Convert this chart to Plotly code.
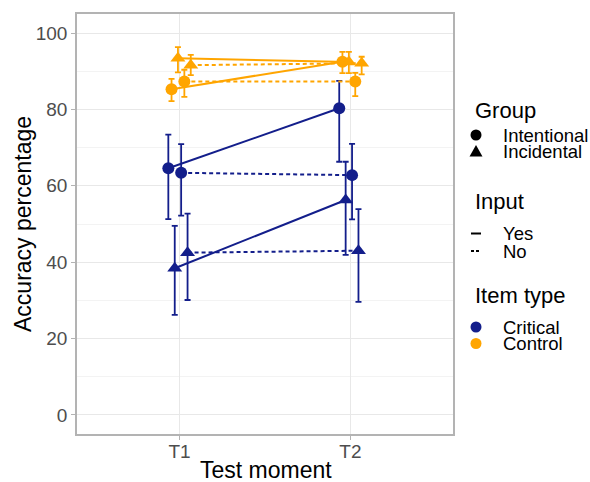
import plotly.graph_objects as go

# ---------------- data ----------------
moments = ["T1", "T2"]
item_types = ["Critical", "Control"]
groups = ["Intentional", "Incidental"]
inputs = ["Yes", "No"]

# means, upper and lower bounds at [T1, T2]
crit_int_yes = [64.6, 80.3]
crit_int_yes_hi = [73.4, 87.5]
crit_int_yes_lo = [51.3, 66.3]

crit_int_no = [63.4, 62.8]
crit_int_no_hi = [70.9, 71.0]
crit_int_no_lo = [52.2, 51.2]

crit_inc_yes = [38.4, 56.3]
crit_inc_yes_hi = [49.5, 66.3]
crit_inc_yes_lo = [26.2, 41.9]

crit_inc_no = [42.5, 43.0]
crit_inc_no_hi = [52.7, 53.9]
crit_inc_no_lo = [30.1, 29.6]

ctrl_int_yes = [85.3, 92.5]
ctrl_int_yes_hi = [88.0, 95.1]
ctrl_int_yes_lo = [82.2, 89.5]

ctrl_int_no = [87.3, 87.3]
ctrl_int_no_hi = [90.4, 89.6]
ctrl_int_no_lo = [83.3, 83.5]

ctrl_inc_yes = [93.4, 92.4]
ctrl_inc_yes_hi = [96.3, 95.1]
ctrl_inc_yes_lo = [89.7, 89.5]

ctrl_inc_no = [91.6, 92.1]
ctrl_inc_no_hi = [94.3, 93.8]
ctrl_inc_no_lo = [89.0, 89.2]

series = [
    ("Critical", "Intentional", "Yes", crit_int_yes, crit_int_yes_hi, crit_int_yes_lo),
    ("Critical", "Intentional", "No", crit_int_no, crit_int_no_hi, crit_int_no_lo),
    ("Critical", "Incidental", "Yes", crit_inc_yes, crit_inc_yes_hi, crit_inc_yes_lo),
    ("Critical", "Incidental", "No", crit_inc_no, crit_inc_no_hi, crit_inc_no_lo),
    ("Control", "Intentional", "Yes", ctrl_int_yes, ctrl_int_yes_hi, ctrl_int_yes_lo),
    ("Control", "Intentional", "No", ctrl_int_no, ctrl_int_no_hi, ctrl_int_no_lo),
    ("Control", "Incidental", "Yes", ctrl_inc_yes, ctrl_inc_yes_hi, ctrl_inc_yes_lo),
    ("Control", "Incidental", "No", ctrl_inc_no, ctrl_inc_no_hi, ctrl_inc_no_lo),
]

# ---------------- styles ----------------
FONT = "Liberation Sans, Arial, sans-serif"
colors = {"Critical": "#131E8B", "Control": "#FFA500"}
symbols = {"Intentional": "circle", "Incidental": "triangle-up"}
sizes = {"Intentional": 12, "Incidental": 13}
dashes = {"Yes": "solid", "No": "4px,3px"}
DODGE = 0.15
N_DODGE = 8

fig = go.Figure()

# error bars, lines, points (position_dodge style offsets)
for item, grp, inp, mean, hi, lo in series:
    idx = inputs.index(inp) * 4 + groups.index(grp) * 2 + item_types.index(item)
    off = (idx - (N_DODGE - 1) / 2) * DODGE / N_DODGE
    xs = [moments.index(m) + 1 + off for m in moments]
    fig.add_trace(go.Scatter(
        x=xs, y=mean, mode="lines+markers",
        line=dict(color=colors[item], width=2, dash=dashes[inp]),
        marker=dict(symbol=symbols[grp], size=sizes[grp], color=colors[item]),
        error_y=dict(type="data", symmetric=False,
                     array=[h - m for h, m in zip(hi, mean)],
                     arrayminus=[m - l for m, l in zip(mean, lo)],
                     color=colors[item], thickness=1.8, width=3),
        showlegend=False, hoverinfo="skip",
    ))

# ---------------- layout ----------------
L, R, T, B = 77, 137, 14, 48
W, H = 590, 482
PW, PH = W - L - R, H - T - B


def px2x(px):
    return (px - L) / PW


def px2y(py):
    return (H - B - py) / PH


fig.update_layout(
    width=W, height=H,
    margin=dict(l=L, r=R, t=T, b=B),
    paper_bgcolor="white", plot_bgcolor="white",
    font=dict(family=FONT, color="black"),
    showlegend=False,
    xaxis=dict(
        range=[0.4, 2.6], tickvals=[1, 2], ticktext=moments, automargin=False,
        showgrid=True, gridcolor="#E8E8E8", gridwidth=1, zeroline=False,
        showline=True, mirror=True, linecolor="#B3B3B3", linewidth=1.5,
        ticks="outside", ticklen=4, tickcolor="#B3B3B3", tickwidth=1,
        ticklabelstandoff=-5,
        tickfont=dict(size=19, color="#4D4D4D", family=FONT),
    ),
    yaxis=dict(
        range=[-5, 105], tickvals=[0, 20, 40, 60, 80, 100], automargin=False,
        showgrid=True, gridcolor="#E8E8E8", gridwidth=1, zeroline=False,
        minor=dict(tickvals=[10, 30, 50, 70, 90], showgrid=True, gridcolor="#F3F3F3", gridwidth=0.7, ticks=""),
        showline=True, mirror=True, linecolor="#B3B3B3", linewidth=1.5,
        ticks="outside", ticklen=4, tickcolor="#B3B3B3", tickwidth=1,
        tickfont=dict(size=19, color="#4D4D4D", family=FONT),
    ),
)

# axis titles
fig.add_annotation(x=px2x(266), y=px2y(470), xref="paper", yref="paper",
                   text="Test moment", showarrow=False, xanchor="center", yanchor="middle",
                   font=dict(size=23, family=FONT, color="black"))
fig.add_annotation(x=px2x(23), y=px2y(224), xref="paper", yref="paper",
                   text="Accuracy percentage", showarrow=False, textangle=-90,
                   xanchor="center", yanchor="middle",
                   font=dict(size=23, family=FONT, color="black"))

# ---------------- legend (ggplot-like, drawn as keys + text) ----------------
TITLE_X = 472.5
KEY_X = 476
LABEL_X = 501
legend_titles = [("Group", 111), ("Input", 201.5), ("Item type", 295)]
for txt, py in legend_titles:
    fig.add_annotation(x=px2x(TITLE_X), y=px2y(py), xref="paper", yref="paper",
                       text=txt, showarrow=False, xanchor="left", yanchor="middle",
                       font=dict(size=22, family=FONT, color="black"))

labels = [("Intentional", 135), ("Incidental", 151.5), ("Yes", 233.5), ("No", 251),
          ("Critical", 327), ("Control", 343.5)]
for txt, py in labels:
    fig.add_annotation(x=px2x(LABEL_X), y=px2y(py), xref="paper", yref="paper",
                       text=txt, showarrow=False, xanchor="left", yanchor="middle",
                       font=dict(size=18.5, family=FONT, color="black"))


def key_circle(py, color):
    fig.add_shape(type="circle", xref="paper", yref="paper",
                  xsizemode="pixel", ysizemode="pixel",
                  xanchor=px2x(KEY_X), yanchor=px2y(py),
                  x0=-5.5, x1=5.5, y0=-5.5, y1=5.5,
                  fillcolor=color, line=dict(width=0))


def key_triangle(py, color):
    fig.add_shape(type="path", xref="paper", yref="paper",
                  xsizemode="pixel", ysizemode="pixel",
                  xanchor=px2x(KEY_X), yanchor=px2y(py),
                  path="M -6.5,-5 L 6.5,-5 L 0,6.5 Z",
                  fillcolor=color, line=dict(width=0))


def key_line(py, dash):
    fig.add_shape(type="line", xref="paper", yref="paper",
                  x0=px2x(KEY_X - 5), x1=px2x(KEY_X + 5), y0=px2y(py), y1=px2y(py),
                  line=dict(color="black", width=2, dash=dash))


key_circle(135, "black")
key_triangle(151.5, "black")
key_line(233.5, "solid")
key_line(251, "3px,2px")
key_circle(327, colors["Critical"])
key_circle(343.5, colors["Control"])

fig.write_html("out.html", config={"displayModeBar": False},
               post_script="document.body.style.margin='0';document.body.style.overflow='hidden';")
